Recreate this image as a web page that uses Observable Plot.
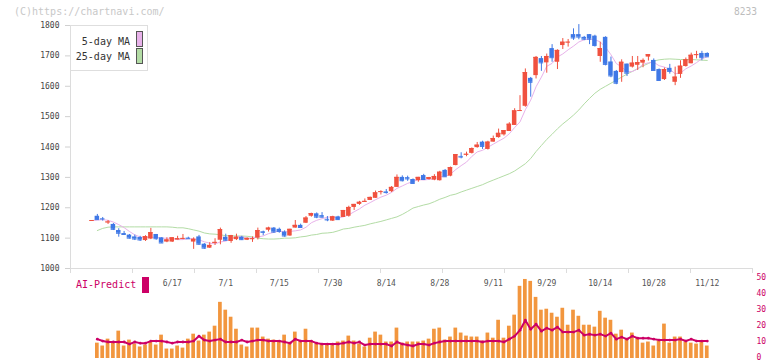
<!DOCTYPE html>
<html><head><meta charset="utf-8">
<script src="https://cdn.jsdelivr.net/npm/d3@7"></script>
<script src="https://cdn.jsdelivr.net/npm/@observablehq/plot@0.6"></script>
<style>
html,body{margin:0;padding:0;background:#fff;}
#chart{position:relative;width:772px;height:361px;overflow:hidden;font-family:"DejaVu Sans Mono",monospace;}
#chart svg{position:absolute;left:0;background:transparent;overflow:visible;}
.abs{position:absolute;white-space:nowrap;line-height:1;}
</style></head><body><div id="chart"></div>
<script>
// ---- data ----
const dates = ["5/27","5/28","5/29","5/30",
"6/2","6/3","6/4","6/5","6/6","6/9","6/10","6/11","6/12","6/13","6/16","6/17","6/18","6/19","6/20","6/23","6/24","6/25","6/26","6/27","6/30",
"7/1","7/2","7/3","7/4","7/7","7/8","7/9","7/10","7/11","7/14","7/15","7/16","7/17","7/18","7/22","7/23","7/24","7/25","7/28","7/29","7/30","7/31",
"8/1","8/4","8/5","8/6","8/7","8/8","8/12","8/13","8/14","8/15","8/18","8/19","8/20","8/21","8/22","8/25","8/26","8/27","8/28","8/29",
"9/1","9/2","9/3","9/4","9/5","9/8","9/9","9/10","9/11","9/12","9/16","9/17","9/18","9/19","9/22","9/24","9/25","9/26","9/29","9/30",
"10/1","10/2","10/3","10/6","10/7","10/8","10/9","10/10","10/14","10/15","10/16","10/17","10/20","10/21","10/22","10/23","10/24","10/27","10/28","10/29","10/30","10/31",
"11/4","11/5","11/6","11/7","11/10","11/11","11/12"];
const dateTickLabels = ["6/17","7/1","7/15","7/30","8/14","8/28","9/11","9/29","10/14","10/28","11/12"];
const priceTicks = [1000,1100,1200,1300,1400,1500,1600,1700,1800];
const volumeTicks = [0,10,20,30,40,50];
const frameTicks = [0,1,2,3,4,5,6,7,8,9,10,11];

const openPrice = [1157,1172,1164,1151,1145,1125,1115,1110,1104,1102,
1092,1097,1112,1101,1087,1087,1094,1097,1100,1087,
1104,1080,1067,1083,1093,1103,1089,1095,1103,1093,
1096,1100,1121,1126,1133,1129,1120,1107,1133,1142,
1149,1172,1180,1174,1162,1156,1170,1168,1172,1201,
1211,1218,1224,1231,1251,1252,1253,1267,1300,1299,
1293,1289,1306,1293,1291,1289,1323,1304,1339,1369,
1374,1379,1398,1416,1392,1416,1431,1440,1451,1471,
1518,1534,1626,1635,1691,1677,1724,1679,1734,1744,
1770,1770,1761,1770,1765,1698,1761,1680,1649,1645,
1673,1663,1669,1676,1696,1685,1655,1622,1659,1613,
1639,1665,1674,1702,1708,1708];
const highPrice = [1158,1178,1168,1158,1148,1131,1122,1112,1110,1106,
1108,1132,1112,1101,1101,1101,1106,1112,1103,1101,
1109,1082,1085,1098,1133,1113,1109,1113,1106,1101,
1104,1133,1123,1136,1135,1133,1124,1129,1158,1146,
1171,1182,1183,1184,1171,1172,1172,1191,1205,1211,
1221,1229,1235,1255,1256,1260,1270,1308,1305,1304,
1295,1300,1310,1300,1309,1320,1326,1334,1375,1381,
1383,1397,1415,1419,1419,1436,1459,1454,1480,1526,
1569,1657,1629,1698,1698,1706,1737,1720,1757,1754,
1789,1803,1764,1770,1768,1745,1763,1696,1652,1687,
1673,1698,1698,1690,1704,1690,1657,1660,1672,1663,
1684,1693,1709,1715,1715,1710];
const lowPrice = [1156,1158,1156,1145,1125,1103,1110,1097,1092,1089,
1089,1095,1093,1083,1085,1086,1094,1095,1097,1063,
1076,1063,1066,1076,1078,1090,1083,1092,1092,1092,
1086,1094,1108,1120,1116,1116,1103,1106,1133,1133,
1148,1169,1164,1166,1154,1155,1158,1168,1169,1191,
1208,1218,1224,1231,1242,1245,1250,1267,1285,1287,
1278,1284,1291,1291,1289,1288,1300,1302,1338,1361,
1368,1377,1396,1392,1390,1416,1429,1436,1451,1471,
1518,1531,1564,1624,1649,1643,1679,1655,1721,1729,
1751,1753,1750,1737,1729,1679,1667,1628,1605,1613,
1632,1660,1652,1661,1683,1652,1617,1619,1640,1602,
1626,1663,1674,1690,1684,1697];
const closePrice = [1158,1161,1163,1153,1129,1116,1112,1100,1097,1094,
1105,1118,1098,1084,1094,1101,1098,1099,1098,1096,
1080,1067,1076,1086,1128,1093,1108,1103,1095,1099,
1098,1125,1119,1133,1120,1122,1107,1129,1142,1135,
1166,1181,1169,1169,1160,1170,1161,1191,1201,1211,
1218,1221,1234,1249,1253,1250,1267,1300,1289,1295,
1280,1300,1293,1299,1303,1317,1302,1332,1375,1367,
1376,1395,1406,1402,1416,1428,1445,1454,1475,1519,
1520,1645,1613,1695,1677,1698,1694,1718,1745,1745,
1759,1762,1755,1755,1734,1724,1672,1634,1610,1679,
1643,1676,1678,1685,1704,1652,1619,1655,1649,1630,
1666,1687,1702,1704,1694,1697];
const ma25 = [null,1125,1132,1136,1137,1137,1137,1137,1137,1137,
1137,1137,1137,1137,1137,1136,1134,1134,1131,1127,
1123,1117,1114,1113,1111,1108,1108,1107,1107,1106,
1104,1100,1098,1097,1097,1098,1100,1100,1101,1104,
1106,1110,1112,1116,1117,1119,1124,1130,1132,1136,
1139,1142,1147,1151,1155,1160,1165,1170,1178,1188,
1199,1204,1209,1213,1220,1228,1234,1241,1245,1252,
1258,1264,1270,1276,1284,1291,1298,1305,1312,1321,
1333,1345,1362,1385,1405,1425,1442,1460,1476,1490,
1505,1522,1542,1560,1577,1590,1600,1610,1620,1630,
1640,1649,1658,1667,1675,1683,1687,1689,1690,1689,
1688,1688,1688,1687,1686,1685];
const volume = [null,9.6,7.8,12.1,10.3,17.1,7.8,11.5,9.0,7.2,
8.4,10.3,8.4,14.6,5.9,5.9,7.8,6.5,12.1,15.2,
10.9,14.6,16.5,20.2,35.1,30.2,25.8,18.3,8.4,7.2,
19.0,19.0,13.4,12.1,11.5,10.9,14.6,9.6,16.5,10.9,
18.3,10.9,9.6,9.0,9.0,9.0,10.3,10.9,14.0,10.9,
9.0,7.2,12.7,16.5,14.6,10.3,10.3,19.0,9.6,10.3,
10.3,10.3,10.9,12.1,18.3,19.0,11.5,13.4,19.0,15.9,
14.0,13.4,13.4,10.9,15.9,12.7,23.9,12.7,20.2,27.1,
45.1,49.4,48.2,38.2,30.2,30.8,28.3,25.8,31.4,20.8,
30.2,26.4,20.8,20.8,19.6,29.5,25.2,23.9,15.2,17.7,
12.1,15.9,12.7,9.6,10.3,7.8,10.9,21.5,9.6,13.4,
13.4,10.3,9.6,9.0,10.3,7.8];
const aiPredict = [null,12.1,10.9,10.3,10.3,10.3,10.3,9.0,10.3,9.6,
9.6,10.9,10.9,10.9,10.3,9.6,10.3,10.3,10.3,10.9,
14.0,11.5,10.9,11.5,12.1,10.3,10.3,10.3,11.5,10.3,
10.9,11.5,11.5,10.9,10.9,10.9,10.3,9.6,12.1,10.9,
10.9,10.9,9.6,9.0,9.0,9.0,9.0,9.6,10.3,9.6,
10.3,8.4,9.0,9.0,9.0,9.0,7.8,10.3,9.0,8.4,
7.8,9.0,9.0,8.4,9.6,10.3,10.9,10.9,10.9,10.9,
10.9,10.9,10.9,10.3,10.9,10.9,10.9,10.3,12.1,14.0,
17.7,23.9,18.3,21.5,17.1,19.0,17.7,19.6,16.5,16.5,
16.5,17.7,14.6,15.2,14.6,15.2,14.0,15.9,12.1,13.4,
12.1,14.0,12.7,12.7,12.7,12.1,11.5,11.5,11.5,11.5,
12.1,10.9,12.1,10.9,10.9,10.9];

// ---- derived tables ----
const candles = dates.map((date, i) => ({
  date, open: openPrice[i], high: highPrice[i], low: lowPrice[i], close: closePrice[i], ma25: ma25[i]
}));
const volRows = dates.map((date, i) => ({date, volume: volume[i], ai: aiPredict[i]})).filter(d => d.volume != null);

const UP = "#f0513f", DOWN = "#3f78e6";
const candleColor = d => d.close >= d.open ? UP : DOWN;
const FONT = "DejaVu Sans Mono, monospace";
const xScale = {type: "band", domain: dates, range: [88.4, 709.86], padding: 0.16, axis: null};

const chart = document.getElementById("chart");

// frame lines / ticks (independent grid of the original chart)
const framePlot = Plot.plot({
  width: 772, height: 275, marginLeft: 70, marginRight: 20, marginTop: 25, marginBottom: 7,
  style: {background: "transparent", overflow: "visible"},
  x: {domain: [0, 11], axis: null}, y: {domain: [0, 1], axis: null},
  marks: [
    Plot.ruleX([0], {stroke: "#dcdcdc"}),
    Plot.ruleY([0], {stroke: "#dcdcdc"}),
    Plot.axisX(frameTicks, {tickSize: 5, stroke: "#dcdcdc", tickFormat: () => "", label: null})
  ]
});
framePlot.style.top = "0px";
chart.appendChild(framePlot);

// main candlestick panel
const mainPlot = Plot.plot({
  width: 772, height: 275, marginLeft: 70, marginRight: 20, marginTop: 25, marginBottom: 7,
  style: {background: "transparent", overflow: "visible", fontFamily: FONT},
  x: xScale,
  y: {domain: [1000, 1800], axis: null},
  marks: [
    Plot.axisY(priceTicks, {anchor: "left", tickSize: 5, tickPadding: 6, stroke: "#d0d0d0", fill: "#444", fontSize: 8, fontFamily: FONT, tickFormat: d => String(d), label: null}),
    Plot.axisX(dateTickLabels, {anchor: "bottom", tickSize: 0, tickPadding: 11.5, fill: "#555", fontSize: 8, fontFamily: FONT, label: null}),
    Plot.line(candles, {x: "date", y: "ma25", stroke: "#b3dca5", strokeWidth: 1}),
    Plot.lineY(candles, Plot.windowY({k: 5, anchor: "end", strict: false}, {x: "date", y: "close", stroke: "#e8b2ea", strokeWidth: 1})),
    Plot.ruleX(candles, {x: "date", y1: "low", y2: "high", stroke: candleColor}),
    Plot.barY(candles, {x: "date", y1: "open", y2: "close", fill: candleColor}),
    Plot.tickY(candles, {x: "date", y: "close", stroke: candleColor})
  ]
});
mainPlot.style.top = "0px";
chart.appendChild(mainPlot);

// volume + AI-Predict panel
const volPlot = Plot.plot({
  width: 772, height: 91, marginLeft: 70, marginRight: 20, marginTop: 8, marginBottom: 3,
  style: {background: "transparent", overflow: "visible", fontFamily: FONT},
  x: xScale,
  y: {domain: [0, 50], axis: null},
  marks: [
    Plot.axisY(volumeTicks, {anchor: "right", tickSize: 0, tickPadding: 4, dy: -1, fill: "#cc0066", fontSize: 8, fontFamily: FONT, label: null}),
    Plot.barY(volRows, {x: "date", y: "volume", fill: "#f2963e", insetLeft: 0.4, insetRight: 0.4}),
    Plot.line(volRows, {x: "date", y: "ai", stroke: "#cc0066", strokeWidth: 2}),
    Plot.dot(volRows, {x: "date", y: "ai", r: 1.4, fill: "#cc0066"})
  ]
});
volPlot.style.top = "270px";
chart.appendChild(volPlot);

// texts and legends
function addDiv(html, css) {
  const d = document.createElement("div");
  d.className = "abs";
  d.innerHTML = html;
  Object.assign(d.style, css);
  chart.appendChild(d);
  return d;
}
addDiv("(C)https://chartnavi.com/", {left: "14px", top: "7px", fontSize: "10px", color: "#c8c8c8"});
addDiv("8233", {left: "734px", top: "7px", fontSize: "9.6px", color: "#bdbdbd"});
// MA legend
addDiv("", {left: "70px", top: "25px", width: "76px", height: "44px", border: "1px solid #dedede", background: "#fff"});
addDiv("5-day MA", {left: "70px", width: "60px", textAlign: "right", top: "37px", fontSize: "10px", color: "#333"});
addDiv("25-day MA", {left: "70px", width: "60px", textAlign: "right", top: "52px", fontSize: "10px", color: "#333"});
addDiv("", {left: "136px", top: "31px", width: "5px", height: "14px", border: "1px solid #555", background: "#e8b2ea"});
addDiv("", {left: "136px", top: "48px", width: "5px", height: "14px", border: "1px solid #555", background: "#b3dca5"});
// AI legend
addDiv("AI-Predict", {left: "76px", top: "280px", fontSize: "10px", color: "#cc0066"});
addDiv("", {left: "142px", top: "277px", width: "7px", height: "16px", background: "#cc0066"});
</script></body></html>
